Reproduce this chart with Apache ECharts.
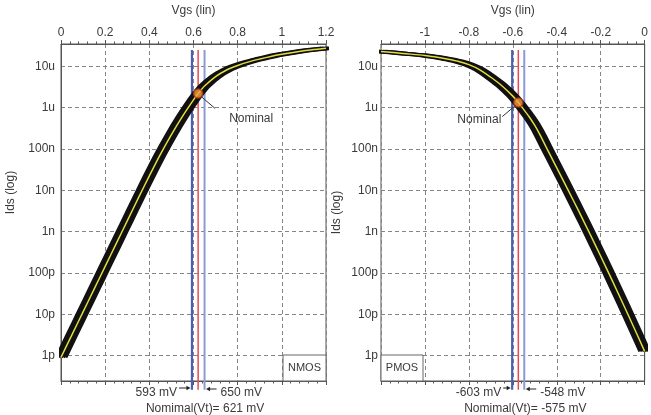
<!DOCTYPE html>
<html><head><meta charset="utf-8">
<script src="https://cdn.jsdelivr.net/npm/echarts@6/dist/echarts.min.js"></script>
<style>html,body{margin:0;padding:0;background:#fff}#c{width:651px;height:415px}</style>
</head><body><div id="c"></div>
<script>
// ---- data ----
const nmosVgs = [0, 0.05, 0.1, 0.15, 0.2, 0.25, 0.3, 0.35, 0.4, 0.45, 0.5, 0.55, 0.6, 0.621, 0.65, 0.7, 0.75, 0.8, 0.85, 0.9, 0.95, 1.0, 1.05, 1.1, 1.15, 1.2];
const nmosIds = [9.1e-13, 3.24e-12, 1.15e-11, 4.08e-11, 1.45e-10, 5.14e-10, 1.82e-9, 6.47e-9, 2.24e-8, 7.43e-8, 2.24e-7, 6.18e-7, 1.55e-6, 2.2e-6, 3.33e-6, 5.65e-6, 8.17e-6, 1.05e-5, 1.28e-5, 1.50e-5, 1.73e-5, 1.95e-5, 2.16e-5, 2.37e-5, 2.56e-5, 2.75e-5];
const pmosVgs = [-1.2, -1.1, -1.0, -0.95, -0.9, -0.85, -0.8, -0.75, -0.7, -0.65, -0.6, -0.575, -0.55, -0.525, -0.5, -0.475, -0.45, -0.4, -0.35, -0.3, -0.25, -0.2, -0.15, -0.1, -0.05, 0];
const pmosIds = [2.30e-5, 2.05e-5, 1.84e-5, 1.68e-5, 1.51e-5, 1.33e-5, 1.10e-5, 8.24e-6, 5.44e-6, 3.40e-6, 1.90e-6, 1.33e-6, 8.99e-7, 5.94e-7, 3.72e-7, 2.14e-7, 1.16e-7, 3.51e-8, 1.06e-8, 3.13e-9, 9.02e-10, 2.54e-10, 7.0e-11, 1.88e-11, 4.95e-12, 1.27e-12];
const nmosVt = [0.593, 0.621, 0.650];      // low, nominal, high
const pmosVt = [-0.603, -0.575, -0.548];
const nmosNominal = [0.621, 2.2e-6];
const pmosNominal = [-0.575, 1.33e-6];
const nmosXTicks = [0, 1.2, 0.2];
const pmosXTicks = [-1.2, 0, 0.2];
const bandShifts = [-0.021, -0.0105, 0, 0.0105, 0.021];   // spread of the black Monte-Carlo band (V)
const yTickExps = [-5, -6, -7, -8, -9, -10, -11, -12];
const yTickNames = ['10u', '1u', '100n', '10n', '1n', '100p', '10p', '1p'];
const yRange = [2.44e-13, 3.47e-5];
const vtLineRange = [1.5e-13, 2.5e-5];
const nmosVtText = ['593 mV', '650 mV', 'Nomimal(Vt)= 621 mV'];
const pmosVtText = ['-603 mV', '-548 mV', 'Nomimal(Vt)= -575 mV'];

const FONT = "'Liberation Sans', Arial, sans-serif";
const TXT = '#3a3a3a';
const chart = echarts.init(document.getElementById('c'), null, {renderer: 'canvas'});

function zip(a, b) { return a.map((v, i) => [v, b[i]]); }
function yFmt(v) {
  const l = Math.log10(v), e = Math.round(l);
  if (Math.abs(l - e) > 1e-6) return '';
  const i = yTickExps.indexOf(e);
  return i >= 0 ? yTickNames[i] : '';
}
const dashed = {show: true, lineStyle: {color: '#858585', type: [4, 3], width: 1}};
const AX_PER_GRID = 2 + bandShifts.length;

function xAxes(g, ticks, top) {
  const base = {
    gridIndex: g, type: 'value', min: ticks[0], max: ticks[1], interval: ticks[2],
    axisLine: {show: true, onZero: false, lineStyle: {color: '#555', width: 1}},
    axisTick: {show: true, length: 4, lineStyle: {color: '#555'}},
    minorTick: {show: true, splitNumber: 5, length: 2.5, lineStyle: {color: '#555'}},
  };
  const list = [
    Object.assign({}, base, {
      position: 'top', name: 'Vgs (lin)', nameLocation: 'middle', nameGap: 27,
      nameTextStyle: {fontFamily: FONT, fontSize: 12, color: TXT},
      axisLabel: {show: true, margin: 5, fontFamily: FONT, fontSize: 12, color: TXT, showMinLabel: top},
      splitLine: dashed
    }),
    Object.assign({}, base, {position: 'bottom', axisLabel: {show: false}, splitLine: {show: false}})
  ];
  // hidden axes: same scale offset by the band spread
  bandShifts.forEach(s => list.push({gridIndex: g, type: 'value', show: false,
    min: ticks[0] - s, max: ticks[1] - s, splitLine: {show: false}}));
  return list;
}
function yAxis(g, gap, margin, pad) {
  return {
    gridIndex: g, type: 'log', logBase: 10, min: yRange[0], max: yRange[1],
    name: 'Ids (log)', nameLocation: 'middle', nameGap: gap, nameRotate: 90,
    nameTextStyle: {fontFamily: FONT, fontSize: 12, color: TXT, padding: pad},
    axisLine: {show: true, lineStyle: {color: '#555'}},
    axisTick: {show: false},
    axisLabel: {formatter: yFmt, margin: margin, fontFamily: FONT, fontSize: 12, color: TXT},
    splitLine: dashed
  };
}
function seriesFor(g, xs, ys, vt, nominal) {
  const xi = g * AX_PER_GRID, yi = g;
  const vtColors = ['#4a5fb3', '#e24b50', '#8a9bd4'];
  const vtWidths = [2.2, 1.5, 2];
  const s = [];
  const line = {showSymbol: false, symbol: 'none', smooth: 0.3, silent: true};
  vt.forEach((v, i) => s.push({
    type: 'line', xAxisIndex: xi, yAxisIndex: yi, clip: false, silent: true,
    data: [[v, vtLineRange[0]], [v, vtLineRange[1]]], showSymbol: false, symbol: 'none',
    lineStyle: {color: vtColors[i], width: vtWidths[i]}, z: 2
  }));
  bandShifts.forEach((sh, k) => s.push(Object.assign({type: 'line', xAxisIndex: xi + 2 + k, yAxisIndex: yi,
    data: zip(xs, ys), lineStyle: {color: '#111', width: 3.5}, z: 3}, line)));
  s.push(Object.assign({type: 'line', xAxisIndex: xi, yAxisIndex: yi, data: zip(xs, ys),
    lineStyle: {color: '#e4dc3a', width: 1.5}, z: 4}, line));
  s.push({type: 'scatter', xAxisIndex: xi, yAxisIndex: yi, data: [nominal], symbolSize: 9,
    itemStyle: {color: '#f2a33a', borderColor: '#b8321a', borderWidth: 1.5}, z: 5});
  return s;
}

chart.setOption({
  animation: false,
  backgroundColor: '#fff',
  grid: [
    {left: 61, top: 42, width: 265, height: 339, show: true, borderColor: '#555', borderWidth: 1},
    {left: 381, top: 42, width: 265, height: 339, show: true, borderColor: '#555', borderWidth: 1}
  ],
  xAxis: [].concat(xAxes(0, nmosXTicks, true), xAxes(1, pmosXTicks, false)),
  yAxis: [yAxis(0, 44, 6, [0, 0, 0, 40]), yAxis(1, 38, 3, [0, 0, 0, 0])],
  series: [].concat(seriesFor(0, nmosVgs, nmosIds, nmosVt, nmosNominal),
                    seriesFor(1, pmosVgs, pmosIds, pmosVt, pmosNominal))
});

// ---- annotations anchored to the library's scales ----
function px(g, pt) { return chart.convertToPixel({xAxisIndex: g * AX_PER_GRID, yAxisIndex: g}, pt); }
const gr = [];
function text(x, y, s, align, size) {
  gr.push({type: 'text', x: x, y: y, style: {text: s, fill: TXT, font: (size || 12) + 'px ' + FONT,
    textAlign: align, textVerticalAlign: 'middle'}, z: 10});
}
function arrow(x1, x2, y) {
  const d = x2 > x1 ? 1 : -1;
  gr.push({type: 'line', shape: {x1: x1, y1: y, x2: x2 - d * 3, y2: y}, style: {stroke: '#222', lineWidth: 1}, z: 10});
  gr.push({type: 'polygon', shape: {points: [[x2, y], [x2 - d * 4, y - 2.2], [x2 - d * 4, y + 2.2]]}, style: {fill: '#222'}, z: 10});
}
function annot(g, vt, labels, nominal, side, gaps) {
  const xl = px(g, [vt[0], 1e-9])[0], xn = px(g, [vt[1], 1e-9])[0], xh = px(g, [vt[2], 1e-9])[0];
  text(xl - gaps[0], 393, labels[0], 'right');
  arrow(xl - gaps[0] + 2, xl - 1.5, 388);
  text(xh + gaps[1], 393, labels[1], 'left');
  arrow(xh + gaps[1] - 4, xh + 1.5, 389);
  text(xn + 7, 409, labels[2], 'center');
  const p = px(g, nominal);
  if (side > 0) {
    gr.push({type: 'line', shape: {x1: p[0] + 3, y1: p[1] + 3, x2: p[0] + 17, y2: p[1] + 15}, style: {stroke: '#333', lineWidth: 1}, z: 10});
    text(p[0] + 31, p[1] + 25, 'Nominal', 'left');
  } else {
    gr.push({type: 'line', shape: {x1: p[0] - 3, y1: p[1] + 3, x2: p[0] - 16, y2: p[1] + 14}, style: {stroke: '#333', lineWidth: 1}, z: 10});
    text(p[0] - 17, p[1] + 17, 'Nominal', 'right');
  }
}
annot(0, nmosVt, nmosVtText, nmosNominal, 1, [15, 16]);
annot(1, pmosVt, pmosVtText, pmosNominal, -1, [11, 16]);
// corner boxes
gr.push({type: 'rect', shape: {x: 283, y: 355, width: 43, height: 26}, style: {fill: '#fff', stroke: '#666', lineWidth: 1}, z: 8});
text(304.5, 368, 'NMOS', 'center', 11);
gr.push({type: 'rect', shape: {x: 381, y: 355, width: 42, height: 26}, style: {fill: '#fff', stroke: '#666', lineWidth: 1}, z: 8});
text(402, 368, 'PMOS', 'center', 11);
chart.setOption({graphic: gr});
</script>
</body></html>
